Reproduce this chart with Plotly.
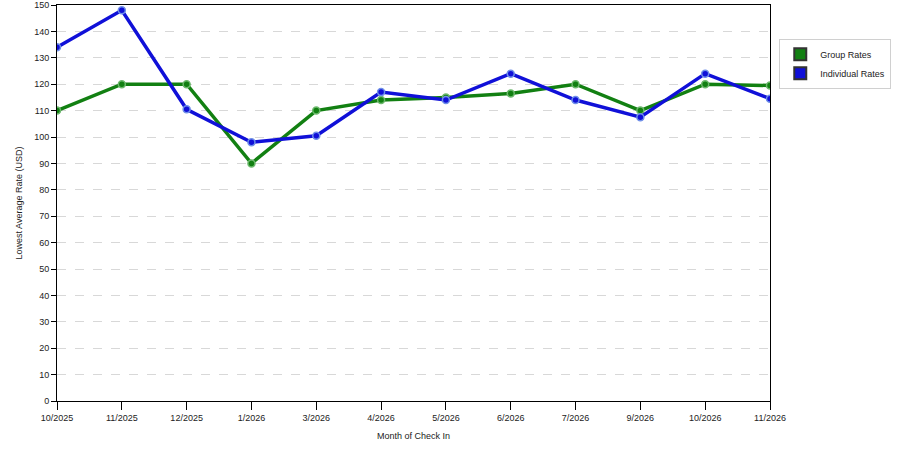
import plotly.graph_objects as go

months = ["10/2025", "11/2025", "12/2025", "1/2026", "3/2026", "4/2026",
          "5/2026", "6/2026", "7/2026", "9/2026", "10/2026", "11/2026"]
group_rates = [110, 120, 120, 90, 110, 114, 115, 116.5, 120, 110, 120, 119.5]
individual_rates = [134, 148, 110.5, 98, 100.5, 117, 114, 124, 114, 107.5, 124, 114.5]

GREEN = "#128012"
BLUE = "#1010d8"
FONT = "Liberation Sans"

fig = go.Figure()

# real lines, kept out of the legend
for name, vals, col, light in [("Group Rates", group_rates, GREEN, "#6cb86c"),
                               ("Individual Rates", individual_rates, BLUE, "#6f8fe8")]:
    fig.add_trace(go.Scatter(
        x=months, y=vals, mode="lines+markers", name=name, showlegend=False,
        line=dict(color=col, width=3.5),
        marker=dict(size=7, color=col, line=dict(color=light, width=1.5)),
    ))

# square swatches for the legend
for name, col in [("Group Rates", GREEN), ("Individual Rates", BLUE)]:
    fig.add_trace(go.Scatter(
        x=[None], y=[None], mode="markers", name=name,
        marker=dict(symbol="square", size=12, color=col, line=dict(color="#333", width=0.5)),
    ))

fig.update_layout(
    width=900, height=450,
    margin=dict(l=57, r=130, t=5, b=49, autoexpand=False),
    plot_bgcolor="white", paper_bgcolor="white",
    font=dict(family=FONT, size=9, color="#222"),
    legend=dict(x=1.013, y=0.915, xanchor="left", yanchor="top",
                bordercolor="#d0d0d0", borderwidth=1, font=dict(size=9),
                itemsizing="constant", tracegroupgap=2, itemwidth=30),
    xaxis=dict(
        type="category", range=[0, len(months) - 1], automargin=False,
        title=dict(text="Month of Check In", font=dict(size=9), standoff=10),
        showline=True, linecolor="black", linewidth=1, mirror=True,
        ticks="outside", ticklen=8, tickcolor="black", showgrid=False,
        tickfont=dict(size=9),
    ),
    yaxis=dict(
        range=[0, 150], dtick=10, automargin=False,
        title=dict(text="Lowest Average Rate (USD)", font=dict(size=9), standoff=10),
        showline=True, linecolor="black", linewidth=1, mirror=True,
        ticks="outside", ticklen=5, tickcolor="black",
        showgrid=True, gridcolor="#d8d8d8", griddash="dash", gridwidth=1,
        zeroline=False, tickfont=dict(size=9),
    ),
)

fig.write_html("out.html", config={"displayModeBar": False},
               post_script="document.body.style.margin='0';")
